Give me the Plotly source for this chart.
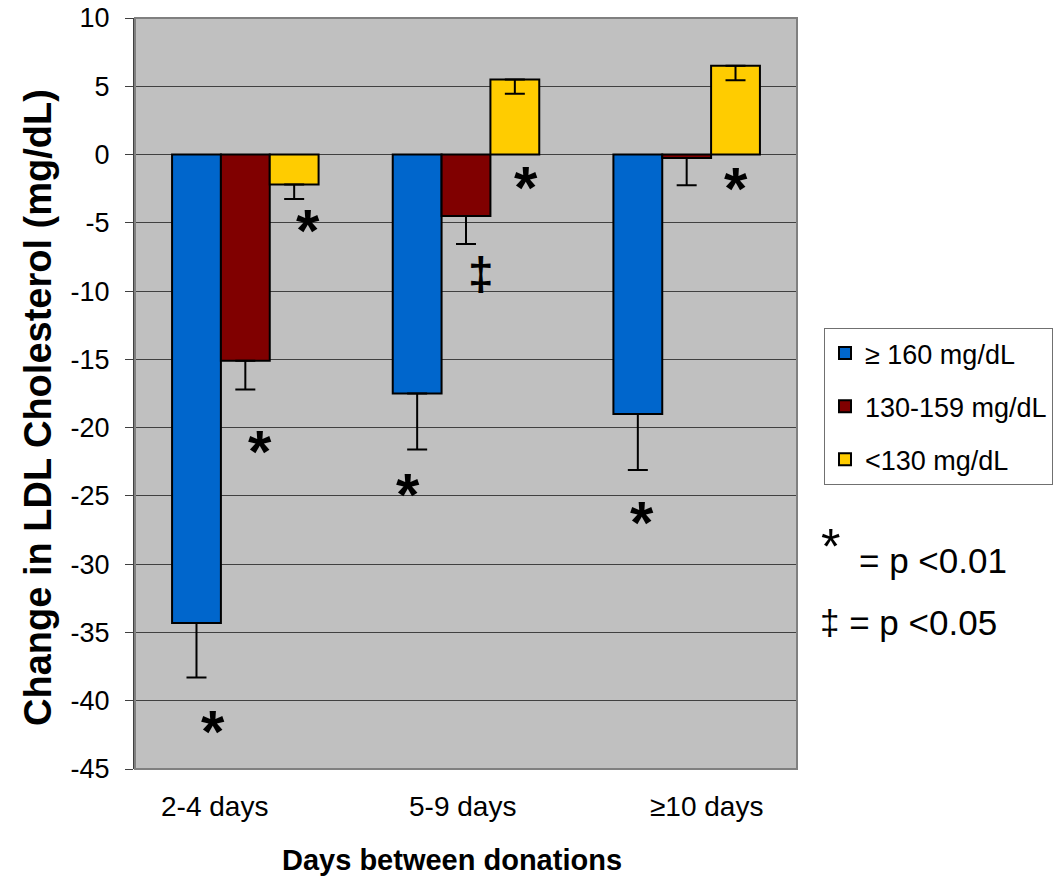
import plotly.graph_objects as go

# ---- data ----
categories = ["2-4 days", "5-9 days", "≥10 days"]
series_names = ["≥ 160 mg/dL", "130-159 mg/dL", "<130 mg/dL"]
high_vals = [-34.3, -17.5, -19.0]
high_err = [4.0, 4.1, 4.1]
mid_vals = [-15.1, -4.5, -0.25]
mid_err = [2.1, 2.05, 2.0]
low_vals = [-2.2, 5.5, 6.5]
low_err = [1.05, 1.05, 1.05]

y_ticks = [10, 5, 0, -5, -10, -15, -20, -25, -30, -35, -40, -45]

# significance markers (text, category position, value)
sig_text = ["*", "*", "*", "*", "‡", "*", "*", "*"]
sig_x = [-0.146, 0.067, 0.284, 0.737, 1.068, 1.272, 1.797, 2.223]
sig_y = [-41.4, -20.9, -4.65, -24.0, -8.73, -1.5, -26.1, -1.58]

colors = ["#0066CC", "#800000", "#FFCC00"]
FONT = "Arial, 'Liberation Sans', sans-serif"

fig = go.Figure()
for i, (name, vals, err, col) in enumerate(zip(series_names, [high_vals, mid_vals, low_vals],
                                              [high_err, mid_err, low_err], colors)):
    fig.add_trace(go.Bar(
        name=name, x=categories, y=vals,
        marker=dict(color=col, line=dict(color="black", width=2)),
        error_y=dict(type="data", symmetric=False, array=[0] * len(err), arrayminus=err,
                     color="black", thickness=2, width=10),
        legendgroup=f"g{i}",
    ))

# layout geometry (pixels)
L, R, T, B = 135, 797, 18, 769
W, H = 1055, 883
def px(x):
    return (x - L) / (R - L)
def py(y):
    return (B - y) / (B - T)

annotations = []
for t, x, y in zip(sig_text, sig_x, sig_y):
    if t == "*":
        annotations.append(dict(x=x, y=y, xref="x", yref="y", text="*", showarrow=False,
                                font=dict(family=FONT, size=60, color="black", weight="bold"),
                                yanchor="middle", xanchor="center", yshift=-12))
    else:
        annotations.append(dict(x=x, y=y, xref="x", yref="y", text=t, showarrow=False,
                                font=dict(family=FONT, size=46, color="black", weight="bold"),
                                yanchor="middle", xanchor="center"))

# category labels
cat_pos = [-0.142, 0.982, 2.091]
for c, x in zip(categories, cat_pos):
    annotations.append(dict(x=x, y=py(806), xref="x", yref="paper", text=c, showarrow=False,
                            font=dict(family=FONT, size=28, color="black"),
                            yanchor="middle", xanchor="center"))

# axis titles
annotations.append(dict(x=px(38), y=py(408), xref="paper", yref="paper",
                        text="Change in LDL Cholesterol (mg/dL)", textangle=-90, showarrow=False,
                        font=dict(family=FONT, size=38, color="black", weight="bold"),
                        xanchor="center", yanchor="middle"))
annotations.append(dict(x=px(452), y=py(860), xref="paper", yref="paper",
                        text="Days between donations", showarrow=False,
                        font=dict(family=FONT, size=29, color="black", weight="bold"),
                        xanchor="center", yanchor="middle"))

# significance key
annotations.append(dict(x=px(830), y=py(537), xref="paper", yref="paper", text="*",
                        showarrow=False, font=dict(family=FONT, size=50, color="black"),
                        xanchor="center", yanchor="middle", yshift=-10))
annotations.append(dict(x=px(857), y=py(560), xref="paper", yref="paper", text="= p <0.01",
                        showarrow=False, font=dict(family=FONT, size=35, color="black"),
                        xanchor="left", yanchor="middle"))
annotations.append(dict(x=px(818), y=py(622), xref="paper", yref="paper", text="‡ = p <0.05",
                        showarrow=False, font=dict(family=FONT, size=35, color="black"),
                        xanchor="left", yanchor="middle"))

fig.update_layout(
    width=W, height=H,
    margin=dict(l=L, r=W - R, t=T, b=H - B, pad=0, autoexpand=False),
    paper_bgcolor="white", plot_bgcolor="#C0C0C0",
    barmode="group", bargap=0.336, bargroupgap=0,
    font=dict(family=FONT, size=27, color="black"),
    showlegend=True,
    legend=dict(x=px(824), y=py(328), xanchor="left", yanchor="top",
                bgcolor="white", bordercolor="#707070", borderwidth=1,
                font=dict(family=FONT, size=27, color="black"),
                traceorder="grouped", tracegroupgap=15),
    annotations=annotations,
    shapes=[dict(type="rect", xref="paper", yref="paper", x0=0, x1=1, y0=0, y1=1,
                 line=dict(color="#808080", width=2), layer="above")],
)
fig.update_xaxes(showticklabels=False, showgrid=False, zeroline=False, showline=False,
                 range=[-0.5, 2.5], automargin=False)
fig.update_yaxes(range=[-45, 10], tickvals=y_ticks, ticktext=[str(v) for v in y_ticks],
                 showgrid=True, gridcolor="#404040", gridwidth=1,
                 zeroline=True, zerolinecolor="#404040", zerolinewidth=1,
                 showline=True, linecolor="#404040", linewidth=2,
                 ticks="outside", ticklen=8, tickcolor="#404040", tickwidth=1,
                 ticklabelstandoff=10, automargin=False,
                 tickfont=dict(family=FONT, size=27, color="black"))

fig.write_html("out.html")
